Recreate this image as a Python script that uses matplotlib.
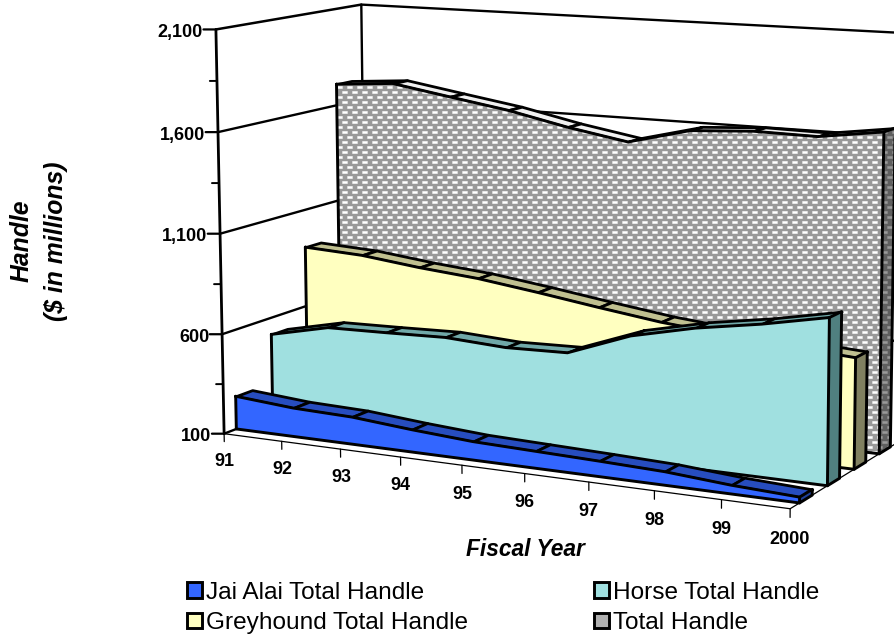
import numpy as np
import matplotlib
matplotlib.use('Agg')
import matplotlib.pyplot as plt
import matplotlib.hatch as mhatch
from matplotlib.patches import Patch
from matplotlib.path import Path
from mpl_toolkits.mplot3d import proj3d
from mpl_toolkits.mplot3d.art3d import Poly3DCollection

plt.rcParams['font.family'] = ['Liberation Sans', 'DejaVu Sans']
plt.rcParams['hatch.linewidth'] = 0.3

# Chart data ($ in millions)
years = ['91', '92', '93', '94', '95', '96', '97', '98', '99', '2000']
jai_alai = [266, 243, 235, 210, 190, 182, 174, 164, 141, 127]
horse = [515, 582, 589, 598, 581, 589, 704, 774, 825, 888]
greyhound = [907, 893, 859, 833, 793, 749, 708, 680, 655, 635]
total = [1710, 1733, 1684, 1636, 1572, 1520, 1598, 1617, 1613, 1657]
major_ticks = [100, 600, 1100, 1600, 2100]
minor_ticks = [350, 850, 1350, 1850]
y_labels = ['100', '600', '1,100', '1,600', '2,100']

V0, V1 = 100, 2100
W, H = 895, 639
DEPTH = 0.11


# excel style brick pattern for the grey series
class BrickDots(mhatch.HatchPatternBase):
    def __init__(self, hatch, density):
        self.rows = hatch.count('.') * 20
        self.cols = 10
        self.num_vertices = self.rows * (self.cols + 1) * 5

    def set_vertices_and_codes(self, vertices, codes):
        dx, dy = 0.024, 0.011
        i = 0
        for r in range(self.rows):
            shift = 0.5 / self.cols if r % 2 else 0
            for c in range(self.cols + 1):
                cx, cy = c / self.cols + shift, (r + 0.5) / self.rows
                vertices[i:i + 5] = [(cx - dx, cy - dy), (cx + dx, cy - dy), (cx + dx, cy + dy),
                                     (cx - dx, cy + dy), (cx - dx, cy - dy)]
                codes[i:i + 5] = [Path.MOVETO, Path.LINETO, Path.LINETO, Path.LINETO, Path.CLOSEPOLY]
                i += 5


mhatch._hatch_types = [BrickDots]


# perspective camera fitted to the corners of the chart box
def fit_camera():
    world = [(0, V0, 0), (9, V0, 0), (0, V0, 1), (9, V0, 1), (0, V1, 0), (0, V1, 1), (9, V1, 1)]
    image = [(225, 434), (788, 511), (365.5, 379), (900, 439), (217, 27), (360, 6), (905, 34)]
    rows = []
    for (x, v, d), (u, t) in zip(world, image):
        p = [x, v / 1000, d, 1]
        rows.append(p + [0, 0, 0, 0] + [-u * a for a in p])
        rows.append([0, 0, 0, 0] + p + [-t * a for a in p])
    cam = np.linalg.svd(np.array(rows))[2][-1].reshape(3, 4)
    cam = cam @ np.diag([1, 0.001, 1, 1])
    return np.array([cam[0], cam[1], [0, 0, 1, 0], cam[2]])


fig = plt.figure(figsize=(W / 100, H / 100), dpi=100)
# square axes hanging over the figure, mplot3d forces a square box
ax = fig.add_axes([0, (H - W) / 2 / H, 1, W / H], projection='3d')
ax.set_axis_off()
ax.computed_zorder = False
ax.set_proj_type('ortho')  # stops Line3D clipping its points
M = fit_camera()
ax.get_proj = lambda: M
ax.viewLim.intervalx = (0, W)
ax.viewLim.intervaly = (H + (W - H) / 2, -(W - H) / 2)


def line(xs, vs, ds, lw=1.9, z=1):
    ax.plot(xs, vs, ds, color='black', lw=lw, zorder=z, solid_capstyle='round', solid_joinstyle='round')


def poly(verts, z, **kw):
    ax.add_collection3d(Poly3DCollection([verts], zorder=z, **kw))


def label(x, v, d, s, **kw):
    px, py, _ = proj3d.proj_transform(x, v, d, M)
    fig.text(px / W, 1 - py / H, s, va='center', fontsize=13, fontweight='bold', **kw)


# walls and floor
line([0, 0], [V0, V1], [0, 0], lw=2)
line([0, 0, 9, 9], [V0, V1, V1, V0], [1, 1, 1, 1], lw=1.7)
line([0, 0], [V1, V1], [0, 1], lw=1.8)
for v in major_ticks[1:-1]:
    line([0, 0, 9], [v, v, v], [0, 1, 1], lw=1.7)
line([0, 9, 9], [V0, V0, V0], [0, 0, 1], lw=0.9)
line([0, 0], [V0, V0], [0, 1], lw=1.7)

# axis ticks and labels
for v, s in zip(major_ticks, y_labels):
    line([0, -0.16], [v, v], [0, -0.02], lw=1.6)
    label(-0.14, v - 12, -0.03, s, ha='right')
for v in minor_ticks:
    line([0, -0.09], [v, v], [0, -0.012], lw=1.4)
for i, s in enumerate(years):
    line([i, i], [V0, 60], [0, 0], lw=0.9)
    label(i, -40, 0, s, ha='center')

# back to front: (values, front depth, front colour, top colour, side colour, hatch)
series = [
    (total, 0.81, '#999999', '#f0f0f0', '#5f5f5f', '.'),
    (greyhound, 0.57, '#ffffc0', '#c0c090', '#808060', None),
    (horse, 0.325, '#a0e0e0', '#70a8a8', '#508080', None),
    (jai_alai, 0.08, '#3366ff', '#274dbf', '#1f3f99', None),
]

z = 2
for vals, d0, front, top, side, hatch in series:
    d1 = d0 + DEPTH
    n = len(vals)
    for i in range(n - 1):
        v, v2 = vals[i], vals[i + 1]
        poly([(i, v, d0), (i + 1, v2, d0), (i + 1, v2, d1), (i, v, d1)], z,
             facecolor=top, edgecolor='black', linewidths=2)
    xs = list(range(n)) + [n - 1, 0, 0]
    vs = list(vals) + [V0, V0, vals[0]]
    verts = [(x, v, d0) for x, v in zip(xs, vs)]
    if hatch:
        poly(verts, z + 1, facecolor=front, edgecolor='white', linewidths=0, hatch=hatch)
        poly([(n - 1, vals[-1], d0), (n - 1, vals[-1], d1), (n - 1, V0, d1), (n - 1, V0, d0)], z + 1,
             facecolor=side, edgecolor='#999999', linewidths=0, hatch=hatch)
    else:
        poly(verts, z + 1, facecolor=front, edgecolor='none')
        poly([(n - 1, vals[-1], d0), (n - 1, vals[-1], d1), (n - 1, V0, d1), (n - 1, V0, d0)], z + 1,
             facecolor=side, edgecolor='none')
    line(xs, vs, [d0] * len(xs), lw=2.1, z=z + 2)
    line([n - 1, n - 1, n - 1, n - 1], [vals[-1], vals[-1], V0, V0], [d0, d1, d1, d0], lw=2.1, z=z + 2)
    z += 3

# titles
fig.text(38.5 / W, 1 - 241 / H, 'Handle\n($ in millions)', rotation=90, ha='center', va='center',
         fontsize=17.8, fontweight='bold', fontstyle='italic', linespacing=1.55)
fig.text(525 / W, 1 - 550 / H, 'Fiscal Year', ha='center', va='center',
         fontsize=16.4, fontweight='bold', fontstyle='italic')

handles = [
    Patch(facecolor='#3366ff', edgecolor='black', lw=2.1),
    Patch(facecolor='#ffffc0', edgecolor='black', lw=2.1),
    Patch(facecolor='#a0e0e0', edgecolor='black', lw=2.1),
    Patch(facecolor='#b0b0b0', edgecolor='black', lw=2.1),
]
labels = ['Jai Alai Total Handle', 'Greyhound Total Handle', 'Horse Total Handle', 'Total Handle']
fig.legend(handles, labels, ncol=2, frameon=False, fontsize=17.6, loc='lower left',
           bbox_to_anchor=(182 / W, 0), handlelength=0.62, handleheight=0.62, handletextpad=0.15,
           columnspacing=5.17, labelspacing=0.34, borderpad=0.1, borderaxespad=0.1)

fig.savefig('out.png', dpi=100)
